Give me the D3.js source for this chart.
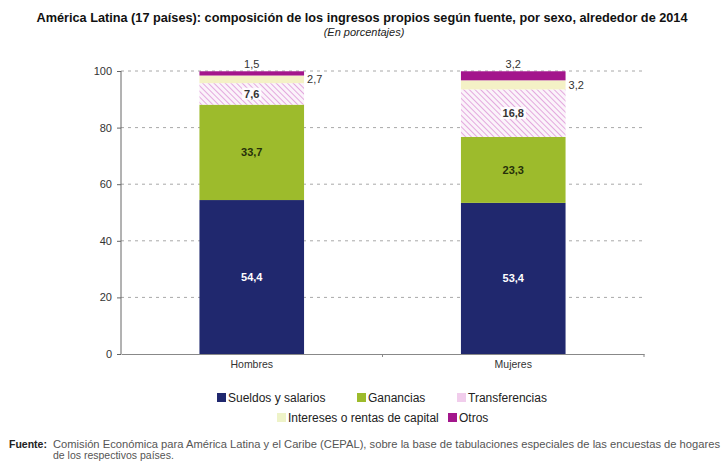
<!DOCTYPE html>
<html><head><meta charset="utf-8">
<script src="https://cdn.jsdelivr.net/npm/d3@7"></script>
<style>body{margin:0;background:#fff}svg{display:block}</style>
</head><body>
<script>
const categories = ["Hombres", "Mujeres"];
const seriesNames = ["Sueldos y salarios", "Ganancias", "Transferencias", "Intereses o rentas de capital", "Otros"];
const sueldos = [54.4, 53.4];
const ganancias = [33.7, 23.3];
const transferencias = [7.6, 16.8];
const intereses = [2.7, 3.2];
const otros = [1.5, 3.2];
const yTicks = [0, 20, 40, 60, 80, 100];
const title = "América Latina (17 países): composición de los ingresos propios según fuente, por sexo, alrededor de 2014";
const subtitle = "(En porcentajes)";
const sourceLabel = "Fuente";
const sourceLine1 = "Comisión Económica para América Latina y el Caribe (CEPAL), sobre la base de tabulaciones especiales de las encuestas de hogares";
const sourceLine2 = "de los respectivos países.";

const W = 721, H = 463;
const svg = d3.select("body").append("svg").attr("width", W).attr("height", H);
const defs = svg.append("defs");
const pat = defs.append("pattern").attr("id", "hatch").attr("patternUnits", "userSpaceOnUse")
  .attr("width", 4).attr("height", 4).attr("patternTransform", "rotate(-45)");
pat.append("rect").attr("width", 4).attr("height", 4).attr("fill", "#fbf3fa");
pat.append("line").attr("x1", 0).attr("y1", 0).attr("x2", 0).attr("y2", 4)
  .attr("stroke", "#e3a9de").attr("stroke-width", 2);

const colors = ["#20286e", "#9dbb2c", "url(#hatch)", "#f4f1c6", "#a3168c"];
const legendColors = ["#20286e", "#9dbb2c", "#f1cdec", "#eef3c8", "#a3168c"];

const font = "'Liberation Sans', Arial, sans-serif";

// title
svg.append("text").attr("x", 362).attr("y", 22).attr("text-anchor", "middle")
  .attr("font-family", "'Liberation Sans Narrow', 'Liberation Sans', Arial, sans-serif")
  .attr("font-weight", "bold").attr("font-size", 12.5).attr("fill", "#111")
  .attr("textLength", 651).attr("lengthAdjust", "spacingAndGlyphs").text(title);
svg.append("text").attr("x", 364).attr("y", 36).attr("text-anchor", "middle")
  .attr("font-family", "'Liberation Sans Narrow', 'Liberation Sans', Arial, sans-serif")
  .attr("font-style", "italic").attr("font-size", 11).attr("fill", "#222").text(subtitle);

const x = d3.scaleBand().domain(categories).range([121, 644]).padding(0);
const y = d3.scaleLinear().domain([0, 100]).range([354, 71]);
const barW = x.bandwidth() * 0.4;

// gridlines
svg.append("g").selectAll("line").data(yTicks.filter(d => d > 0)).join("line")
  .attr("x1", 121).attr("x2", 642).attr("y1", d => y(d)).attr("y2", d => y(d))
  .attr("stroke", "#a8a8a8").attr("stroke-width", 1).attr("stroke-dasharray", "3,4");

// stacked data
const table = categories.map((c, i) => ({
  cat: c, "Sueldos y salarios": sueldos[i], "Ganancias": ganancias[i], "Transferencias": transferencias[i],
  "Intereses o rentas de capital": intereses[i], "Otros": otros[i]
}));
const stacked = d3.stack().keys(seriesNames)(table);

const gBars = svg.append("g");
stacked.forEach((s, si) => {
  gBars.selectAll(null).data(s).join("rect")
    .attr("x", d => x(d.data.cat) + (x.bandwidth() - barW) / 2)
    .attr("width", barW)
    .attr("y", d => y(d[1]))
    .attr("height", d => y(d[0]) - y(d[1]))
    .attr("fill", colors[si]);
});

// axes
const yAxis = svg.append("g").attr("transform", "translate(121,0)")
  .call(d3.axisLeft(y).tickValues(yTicks).tickSize(4).tickPadding(5));
yAxis.select(".domain").attr("stroke", "#666").attr("d", "M0," + y(0) + "V" + y(100));
yAxis.selectAll(".tick line").attr("stroke", "#666");
yAxis.selectAll("text").attr("font-family", font).attr("font-size", 11).attr("fill", "#333");

const xAxis = svg.append("g").attr("transform", "translate(0," + y(0) + ")")
  .call(d3.axisBottom(x).tickSize(0).tickPadding(7));
xAxis.select(".domain").attr("stroke", "#888");
xAxis.selectAll("text").attr("font-family", font).attr("font-size", 10.5).attr("fill", "#333");
// boundary ticks
xAxis.selectAll(".bt").data(categories).join("line").attr("class", "bt")
  .attr("x1", d => x(d) + x.bandwidth()).attr("x2", d => x(d) + x.bandwidth())
  .attr("y1", 0).attr("y2", 3).attr("stroke", "#888");

// labels
const fmt = v => d3.format(".1f")(v).replace(".", ",");
stacked.forEach((s, si) => {
  s.forEach(d => {
    const v = d[1] - d[0];
    const cx = x(d.data.cat) + x.bandwidth() / 2;
    const mid = (y(d[0]) + y(d[1])) / 2;
    let tx = cx, ty = mid, anchor = "middle", fill = "#222", weight = "bold";
    if (si === 0) { fill = "#fff"; }
    else if (si === 1) { fill = "#26300a"; }
    else if (si === 2) { fill = "#333"; }
    else if (si === 3) { tx = cx + barW / 2 + 3; anchor = "start"; weight = "normal"; fill = "#333"; }
    else { ty = y(d[1]) - 7; weight = "normal"; fill = "#333"; }
    const t = svg.append("text").attr("x", tx).attr("y", ty).attr("dy", "0.35em")
      .attr("text-anchor", anchor).attr("font-family", font).attr("font-size", 11)
      .attr("font-weight", weight).attr("fill", fill).text(fmt(v));
    if (si === 2) {
      const bb = t.node().getBBox();
      svg.insert("rect", () => t.node()).attr("x", bb.x - 2).attr("y", bb.y)
        .attr("width", bb.width + 4).attr("height", bb.height).attr("fill", "#fff").attr("opacity", 0.85);
    }
  });
});

// legend
const legendPos = [[217, 393], [357, 393], [457, 393], [277, 413], [448, 413]];
seriesNames.forEach((n, i) => {
  const [lx, ly] = legendPos[i];
  svg.append("rect").attr("x", lx).attr("y", ly).attr("width", 9).attr("height", 9).attr("fill", legendColors[i]);
  svg.append("text").attr("x", lx + 11).attr("y", ly + 9).attr("font-family", font)
    .attr("font-size", 12).attr("fill", "#222").text(n);
});

// source
svg.append("text").attr("x", 9).attr("y", 448).attr("font-family", font).attr("font-weight", "bold")
  .attr("font-size", 10.5).attr("fill", "#222").text(sourceLabel + ":");
svg.append("text").attr("x", 53).attr("y", 448).attr("font-family", font)
  .attr("font-size", 10.5).attr("fill", "#555").attr("textLength", 667).attr("lengthAdjust", "spacingAndGlyphs").text(sourceLine1);
svg.append("text").attr("x", 53).attr("y", 459).attr("font-family", font)
  .attr("font-size", 10.5).attr("fill", "#555").text(sourceLine2);
</script>
</body></html>
